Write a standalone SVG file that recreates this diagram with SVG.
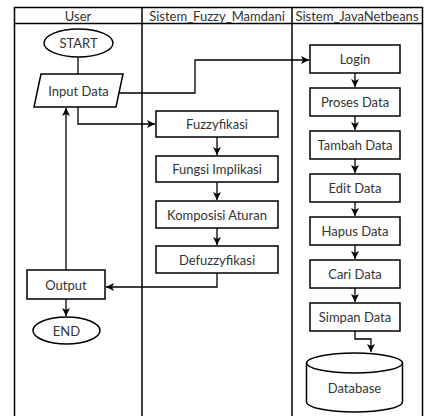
<svg xmlns="http://www.w3.org/2000/svg" width="430" height="416" viewBox="0 0 430 416">
<style>
  text { font-family: Lato, "Liberation Sans", sans-serif; font-size: 13px; fill: #333; text-anchor: middle; dominant-baseline: central; }
  .shape { fill: #fff; stroke: #000; stroke-width: 1.5; }
  .edge { fill: none; stroke: #000; stroke-width: 1.5; }
  .lane { fill: none; stroke: #000; stroke-width: 1.5; }
  .conn { fill: none; stroke: #000; stroke-width: 1.3; }
</style>
<defs>
  <marker id="arr" markerUnits="userSpaceOnUse" markerWidth="10" markerHeight="10" refX="8" refY="4" orient="auto">
    <path d="M0,0 L8,4 L0,8 L2,4 z" fill="#000"/>
  </marker>
</defs>
<rect width="430" height="416" fill="#fff"/>
<g id="pool">
  <path class="lane" d="M14.5,430 V7.5 H422.5 V430 M14.5,23.5 H422.5 M142,7.5 V430 M292,7.5 V430"/>
  <text x="78" y="15.5">User</text>
  <text x="217" y="15.5">Sistem_Fuzzy_Mamdani</text>
  <text x="357" y="15.5">Sistem_JavaNetbeans</text>
</g>
<g id="connectors">
  <path class="conn" d="M78,57 V74"/>
  <path class="conn" d="M119,93 H195 V60 H309" marker-end="url(#arr)"/>
  <path class="conn" d="M78,107 V124 H155" marker-end="url(#arr)"/>
  <path class="conn" d="M217,137 V155" marker-end="url(#arr)"/>
  <path class="conn" d="M217,182 V200" marker-end="url(#arr)"/>
  <path class="conn" d="M217,228 V245" marker-end="url(#arr)"/>
  <path class="conn" d="M217,273 V287 H106" marker-end="url(#arr)"/>
  <path class="conn" d="M66,270 V108" marker-end="url(#arr)"/>
  <path class="conn" d="M66,299 V316" marker-end="url(#arr)"/>
  <path class="conn" d="M355,73 V87" marker-end="url(#arr)"/>
  <path class="conn" d="M355,116 V130" marker-end="url(#arr)"/>
  <path class="conn" d="M355,159 V173" marker-end="url(#arr)"/>
  <path class="conn" d="M355,202 V216" marker-end="url(#arr)"/>
  <path class="conn" d="M355,245 V259" marker-end="url(#arr)"/>
  <path class="conn" d="M355,288 V302" marker-end="url(#arr)"/>
  <path class="conn" d="M355,331 V339 H371 V352" marker-end="url(#arr)"/>
</g>
<g id="start">
  <ellipse class="shape" cx="78.5" cy="43" rx="34.5" ry="14"/>
  <text x="78.5" y="43">START</text>
</g>
<g id="input-data">
  <polygon class="shape" points="41,74 123,74 116,107 34,107"/>
  <text x="78.5" y="90.5">Input Data</text>
</g>
<g id="output">
  <rect class="shape" x="27" y="270" width="78" height="29"/>
  <text x="66" y="284.5">Output</text>
</g>
<g id="end">
  <ellipse class="shape" cx="66.5" cy="330.5" rx="33.5" ry="13.5"/>
  <text x="66.5" y="330.5">END</text>
</g>
<g id="fuzzyfikasi">
  <rect class="shape" x="156" y="111" width="122" height="26"/>
  <text x="217" y="124">Fuzzyfikasi</text>
</g>
<g id="fungsi-implikasi">
  <rect class="shape" x="156" y="156" width="122" height="26"/>
  <text x="217" y="169">Fungsi Implikasi</text>
</g>
<g id="komposisi-aturan">
  <rect class="shape" x="156" y="201" width="122" height="27"/>
  <text x="217" y="214.5">Komposisi Aturan</text>
</g>
<g id="defuzzyfikasi">
  <rect class="shape" x="156" y="246" width="122" height="27"/>
  <text x="217" y="259.5">Defuzzyfikasi</text>
</g>
<g id="login">
  <rect class="shape" x="310" y="45" width="90" height="28"/>
  <text x="355" y="59">Login</text>
</g>
<g id="proses-data">
  <rect class="shape" x="310" y="88" width="90" height="28"/>
  <text x="355" y="102">Proses Data</text>
</g>
<g id="tambah-data">
  <rect class="shape" x="310" y="131" width="90" height="28"/>
  <text x="355" y="145">Tambah Data</text>
</g>
<g id="edit-data">
  <rect class="shape" x="310" y="174" width="90" height="28"/>
  <text x="355" y="188">Edit Data</text>
</g>
<g id="hapus-data">
  <rect class="shape" x="310" y="217" width="90" height="28"/>
  <text x="355" y="231">Hapus Data</text>
</g>
<g id="cari-data">
  <rect class="shape" x="310" y="260" width="90" height="28"/>
  <text x="355" y="274">Cari Data</text>
</g>
<g id="simpan-data">
  <rect class="shape" x="310" y="303" width="90" height="28"/>
  <text x="355" y="317">Simpan Data</text>
</g>
<g id="database">
  <path class="shape" d="M306.5,363 A48,10 0 0 1 402.5,363 V402 A48,10 0 0 1 306.5,402 Z"/>
  <path class="edge" d="M306.5,363 A48,10 0 0 0 402.5,363"/>
  <text x="354.5" y="388">Database</text>
</g>
</svg>
